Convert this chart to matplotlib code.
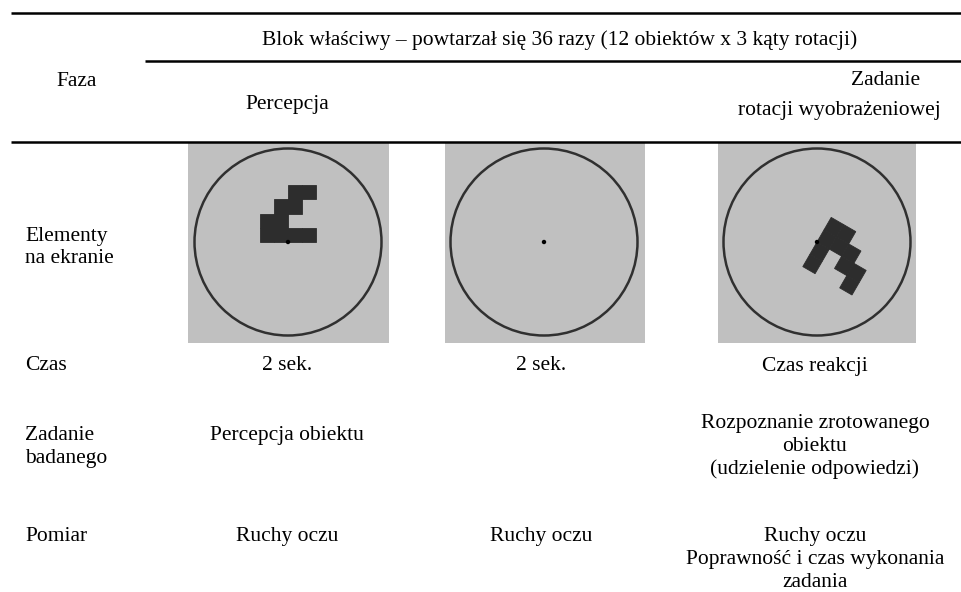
import matplotlib
matplotlib.use("Agg")
import matplotlib.pyplot as plt
from matplotlib.patches import Rectangle, Circle
from matplotlib.transforms import Affine2D

plt.rcParams['font.family'] = ['Liberation Serif', 'DejaVu Serif']

# ---- content ----
header_block = "Blok właściwy – powtarzał się 36 razy (12 obiektów x 3 kąty rotacji)"
phase_label = "Faza"
phase_names = ["Percepcja", "", "Zadanie\nrotacji wyobrażeniowej"]
row_labels = ["Elementy\nna ekranie", "Czas", "Zadanie\nbadanego", "Pomiar"]
time_values = ["2 sek.", "2 sek.", "Czas reakcji"]
task_values = ["Percepcja obiektu", "", "Rozpoznanie zrotowanego\nobiektu\n(udzielenie odpowiedzi)"]
measure_values = ["Ruchy oczu", "Ruchy oczu", "Ruchy oczu\nPoprawność i czas wykonania\nzadania"]

# stimulus: object cells (column, row) in grid units, rotation per panel (None = no object)
object_cells = [(-2, 0), (-1, 0), (0, 0), (1, 0),
                (-2, 1), (-1, 1),
                (-1, 2), (0, 2),
                (0, 3), (1, 3)]
panel_rotation = [0, None, -120]

# ---- layout (pixel coordinates, y down) ----
W, H = 962, 592
fig = plt.figure(figsize=(W / 100, H / 100), dpi=100)
ax = fig.add_axes([0, 0, 1, 1])
ax.set_xlim(0, W)
ax.set_ylim(H, 0)
ax.axis('off')

FS = 15.5
col_x = [287, 541, 815]
panel_left = [188, 445, 718]
panel_size = [201, 200, 198]
panel_cx = [288, 544, 817]
panel_top, panel_h = 142, 201
circle_cy = 242
circle_r = 93.5
unit = 14.2

# rules
lw = 1.8
ax.plot([11, W], [12.7, 12.7], color='black', lw=lw, solid_capstyle='butt')
ax.plot([145, W], [61, 61], color='black', lw=lw, solid_capstyle='butt')
ax.plot([11, W], [141.5, 141.5], color='black', lw=lw, solid_capstyle='butt')

# header
ax.text(560, 45, header_block, fontsize=FS, ha='center', va='baseline')
ax.text(77, 86, phase_label, fontsize=FS, ha='center', va='baseline')
ax.text(col_x[0], 109, phase_names[0], fontsize=FS, ha='center', va='baseline')
z1, z2 = phase_names[2].split("\n")
ax.text(886, 85, z1, fontsize=FS, ha='center', va='baseline')
ax.text(839, 115, z2, fontsize=FS, ha='center', va='baseline')

# panels
for i in range(3):
    ax.add_patch(Rectangle((panel_left[i], panel_top), panel_size[i], panel_h,
                           facecolor='#c0c0c0', edgecolor='none', zorder=1))
    ax.add_patch(Circle((panel_cx[i], circle_cy), circle_r, facecolor='none',
                        edgecolor='#303030', lw=1.8, zorder=2))
    rot = panel_rotation[i]
    if rot is not None:
        tr = Affine2D().rotate_deg(rot).scale(unit, -unit).translate(panel_cx[i], circle_cy) + ax.transData
        for (cx, cy) in object_cells:
            ax.add_patch(Rectangle((cx, cy), 1, 1, facecolor='#2d2d2d', edgecolor='#2d2d2d',
                                   lw=0.6, transform=tr, zorder=3))
    ax.add_patch(Circle((panel_cx[i], circle_cy), 2.2, facecolor='black', edgecolor='none', zorder=4))

# row labels and cells
LS = 22.8
def put(x, y0, s, ha):
    for k, line in enumerate(s.split("\n")):
        ax.text(x, y0 + k * LS, line, fontsize=FS, ha=ha, va='baseline')

put(25, 240.5, row_labels[0], 'left')
put(25, 370, row_labels[1], 'left')
put(25, 440.5, row_labels[2], 'left')
put(25, 541, row_labels[3], 'left')

for i in range(3):
    put(col_x[i], 370.5, time_values[i], 'center')
put(col_x[0], 440, task_values[0], 'center')
put(col_x[2], 428, task_values[2], 'center')
for i in range(3):
    put(col_x[i], 541, measure_values[i], 'center')

fig.savefig("out.png", dpi=100)
